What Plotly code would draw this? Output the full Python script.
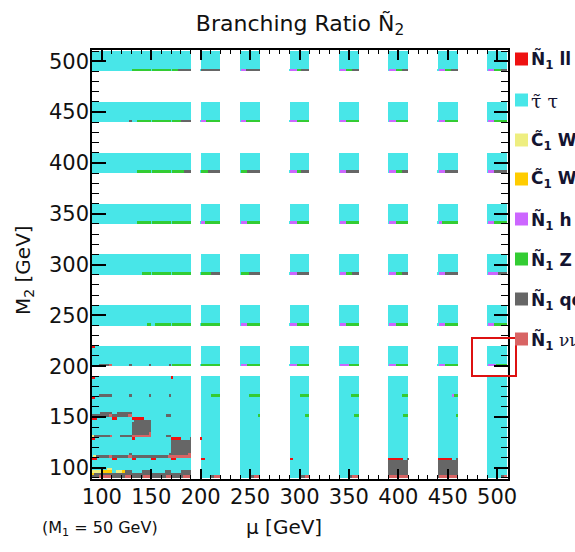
import math
import plotly.graph_objects as go

# Scan grid: higgsino mass parameter mu (columns) and wino mass M2 (rows)
mu_values = [100, 120, 140, 160, 180, 210, 250, 300, 350, 400, 450, 500]
m2_values = [500, 450, 400, 350, 300, 250, 210, 180, 160, 140, 120, 100]

# Decay channels of the second neutralino, in legend / fill order
channel_names = [
    "<b>Ñ<sub>1</sub> ll</b>",
    "τ\u0303 τ",
    "<b>C\u0303<sub>1</sub> W</b>",
    "<b>C\u0303<sub>1</sub> W</b>",
    "<b>Ñ<sub>1</sub> h</b>",
    "<b>Ñ<sub>1</sub> Z</b>",
    "<b>Ñ<sub>1</sub> qq</b>",
    "<b>Ñ<sub>1</sub></b> <span style='font-family:DejaVu Serif'>νν</span>",
]
channel_label_fonts = [
    ("DejaVu Sans", 17), ("DejaVu Serif", 19), ("DejaVu Sans", 17), ("DejaVu Sans", 17),
    ("DejaVu Sans", 17), ("DejaVu Sans", 17), ("DejaVu Sans", 17), ("DejaVu Sans", 17),
]
channel_colors = ["#ee1111", "#48e6e8", "#eeee80", "#ffcc00",
                  "#cc66ff", "#33cc33", "#666666", "#d86464"]

# Branching ratios in percent; rows follow m2_values, columns follow mu_values
br_ll = [
    [0, 0, 0, 0, 0, 0, 0, 0, 0, 0, 0, 0],
    [0, 0, 0, 0, 0, 0, 0, 0, 0, 0, 0, 0],
    [0, 0, 0, 0, 0, 0, 0, 0, 0, 0, 0, 0],
    [0, 0, 0, 0, 0, 0, 0, 0, 0, 0, 0, 0],
    [0, 0, 0, 0, 0, 0, 0, 0, 0, 0, 0, 0],
    [0, 0, 0, 0, 0, 0, 0, 0, 0, 0, 0, 0],
    [2, 0, 0, 0, 0, 0, 0, 0, 0, 0, 0, 0],
    [2, 0, 0, 0, 1, 0, 0, 0, 0, 0, 0, 0],
    [2, 0, 0, 0, 0, 0, 0, 0, 0, 0, 0, 0],
    [3, 3, 8, 0, 0, 0, 0, 0, 0, 0, 0, 0],
    [2, 0, 2, 0, 6, 1, 0, 0, 0, 0, 0, 0],
    [3, 3, 3, 3, 3, 3, 0, 2, 0, 9, 9, 0],
]
br_stau = [
    [100, 100, 88, 88, 88, 88, 88, 88, 88, 88, 88, 88],
    [100, 99, 91, 88, 88, 88, 88, 88, 88, 88, 88, 88],
    [100, 100, 91, 88, 88, 88, 88, 88, 88, 88, 88, 88],
    [100, 100, 91, 88, 88, 88, 88, 88, 88, 88, 88, 88],
    [100, 100, 94, 88, 88, 88, 88, 88, 88, 88, 88, 88],
    [100, 100, 97, 90, 88, 88, 88, 88, 88, 88, 88, 88],
    [90, 99, 99, 99, 88, 88, 88, 88, 88, 88, 88, 88],
    [88, 99, 99, 99, 99, 94, 93, 94, 95, 96, 97, 100],
    [78, 78, 100, 100, 100, 100, 99, 97, 97, 97, 99, 100],
    [85, 90, 6, 97, 100, 100, 100, 100, 100, 100, 100, 100],
    [86, 86, 86, 86, 6, 99, 100, 100, 100, 100, 100, 100],
    [55, 62, 66, 68, 66, 91, 94, 93, 94, 3, 3, 96],
]
br_c1w_a = [
    [0, 0, 0, 0, 0, 0, 0, 0, 0, 0, 0, 0],
    [0, 0, 0, 0, 0, 0, 0, 0, 0, 0, 0, 0],
    [0, 0, 0, 0, 0, 0, 0, 0, 0, 0, 0, 0],
    [0, 0, 0, 0, 0, 0, 0, 0, 0, 0, 0, 0],
    [0, 0, 0, 0, 0, 0, 0, 0, 0, 0, 0, 0],
    [0, 0, 0, 0, 0, 0, 0, 0, 0, 0, 0, 0],
    [0, 0, 0, 0, 0, 0, 0, 0, 0, 0, 0, 0],
    [0, 0, 0, 0, 0, 0, 0, 0, 0, 0, 0, 0],
    [0, 0, 0, 0, 0, 0, 0, 0, 0, 0, 0, 0],
    [1, 0, 0, 0, 0, 0, 0, 0, 0, 0, 0, 0],
    [2, 0, 0, 0, 0, 0, 0, 0, 0, 0, 0, 0],
    [8, 4, 0, 0, 0, 0, 0, 0, 0, 0, 0, 0],
]
br_c1w_b = [
    [0, 0, 0, 0, 0, 0, 0, 0, 0, 0, 0, 0],
    [0, 0, 0, 0, 0, 0, 0, 0, 0, 0, 0, 0],
    [0, 0, 0, 0, 0, 0, 0, 0, 0, 0, 0, 0],
    [0, 0, 0, 0, 0, 0, 0, 0, 0, 0, 0, 0],
    [0, 0, 0, 0, 0, 0, 0, 0, 0, 0, 0, 0],
    [0, 0, 0, 0, 0, 0, 0, 0, 0, 0, 0, 0],
    [0, 0, 0, 0, 0, 0, 0, 0, 0, 0, 0, 0],
    [0, 0, 0, 0, 0, 0, 0, 0, 0, 0, 0, 0],
    [0, 0, 0, 0, 0, 0, 0, 0, 0, 0, 0, 0],
    [0, 0, 0, 0, 0, 0, 0, 0, 0, 0, 0, 0],
    [0, 0, 0, 0, 0, 0, 0, 0, 0, 0, 0, 0],
    [8, 2, 0, 0, 0, 0, 0, 0, 0, 0, 0, 0],
]
br_h = [
    [0, 0, 0, 0, 0, 0, 3, 4, 4, 4, 4, 4],
    [0, 0, 0, 0, 0, 3, 3, 4, 4, 4, 4, 4],
    [0, 0, 0, 0, 0, 0, 0, 4, 4, 4, 4, 4],
    [0, 0, 0, 0, 0, 2, 4, 4, 4, 4, 2, 4],
    [0, 0, 0, 0, 0, 0, 0, 4, 4, 4, 4, 6],
    [0, 0, 0, 0, 0, 0, 4, 4, 4, 4, 4, 4],
    [0, 0, 0, 0, 0, 0, 4, 4, 6, 4, 4, 5],
    [0, 0, 0, 0, 0, 0, 0, 0, 0, 0, 1, 0],
    [0, 0, 0, 0, 0, 0, 0, 0, 0, 0, 0, 0],
    [0, 0, 0, 0, 0, 0, 0, 0, 0, 0, 0, 0],
    [0, 0, 0, 0, 0, 0, 0, 0, 0, 0, 0, 0],
    [0, 0, 0, 0, 0, 0, 0, 0, 0, 0, 0, 0],
]
br_z = [
    [0, 0, 12, 12, 4, 0, 0, 3, 4, 4, 4, 4],
    [0, 0, 9, 12, 6, 9, 9, 8, 8, 8, 8, 8],
    [0, 0, 9, 12, 8, 4, 4, 3, 0, 4, 0, 0],
    [0, 0, 9, 12, 12, 10, 8, 8, 8, 8, 10, 8],
    [0, 0, 6, 12, 12, 6, 5, 0, 4, 4, 0, 0],
    [0, 0, 3, 10, 12, 12, 8, 8, 8, 8, 8, 8],
    [0, 0, 0, 0, 12, 12, 8, 8, 6, 8, 8, 7],
    [0, 0, 0, 0, 0, 6, 7, 6, 5, 4, 2, 0],
    [0, 0, 0, 0, 0, 0, 1, 3, 3, 3, 1, 0],
    [0, 0, 0, 0, 0, 0, 0, 0, 0, 0, 0, 0],
    [0, 0, 0, 0, 0, 0, 0, 0, 0, 0, 0, 0],
    [0, 0, 0, 0, 0, 0, 0, 0, 0, 0, 0, 0],
]
br_qq = [
    [0, 0, 0, 0, 8, 12, 9, 5, 4, 4, 4, 4],
    [0, 1, 0, 0, 6, 0, 0, 0, 0, 0, 0, 0],
    [0, 0, 0, 0, 4, 8, 8, 5, 8, 4, 8, 8],
    [0, 0, 0, 0, 0, 0, 0, 0, 0, 0, 0, 0],
    [0, 0, 0, 0, 0, 6, 7, 8, 4, 4, 8, 6],
    [0, 0, 0, 0, 0, 0, 0, 0, 0, 0, 0, 0],
    [6, 1, 1, 1, 0, 0, 0, 0, 0, 0, 0, 0],
    [8, 1, 1, 1, 0, 0, 0, 0, 0, 0, 0, 0],
    [18, 20, 0, 3, 0, 0, 0, 0, 0, 0, 0, 0],
    [10, 7, 72, 3, 0, 0, 0, 0, 0, 0, 0, 0],
    [8, 12, 12, 12, 74, 0, 0, 0, 0, 0, 0, 0],
    [15, 25, 26, 26, 26, 2, 2, 2, 2, 76, 76, 2],
]
br_nunu = [
    [0, 0, 0, 0, 0, 0, 0, 0, 0, 0, 0, 0],
    [0, 0, 0, 0, 0, 0, 0, 0, 0, 0, 0, 0],
    [0, 0, 0, 0, 0, 0, 0, 0, 0, 0, 0, 0],
    [0, 0, 0, 0, 0, 0, 0, 0, 0, 0, 0, 0],
    [0, 0, 0, 0, 0, 0, 0, 0, 0, 0, 0, 0],
    [0, 0, 0, 0, 0, 0, 0, 0, 0, 0, 0, 0],
    [2, 0, 0, 0, 0, 0, 0, 0, 0, 0, 0, 0],
    [0, 0, 0, 0, 0, 0, 0, 0, 0, 0, 0, 0],
    [2, 2, 0, 0, 0, 0, 0, 0, 0, 0, 0, 0],
    [1, 0, 14, 0, 0, 0, 0, 0, 0, 0, 0, 0],
    [2, 2, 0, 2, 14, 0, 0, 0, 0, 0, 0, 0],
    [8, 4, 5, 3, 5, 4, 4, 3, 4, 12, 12, 2],
]

branchings = [br_ll, br_stau, br_c1w_a, br_c1w_b, br_h, br_z, br_qq, br_nunu]

CELL_W = 20.0      # width of one scan cell in mu [GeV]
CELL_H = 20.0      # height of one scan cell in M2 [GeV]
N_ROWS = 8         # each cell is filled row by row, top-left first

# Plot area in pixels (left, right, top, bottom) on the 575x552 page
PX_L, PX_R, PX_T, PX_B = 92, 508, 50, 479


def px_x(p):
    return (p - PX_L) / (PX_R - PX_L)


def px_y(p):
    return (PX_B - p) / (PX_B - PX_T)


# Build the filled rectangles of every cell, per channel
rects = {k: {"x": [], "w": [], "base": [], "h": []} for k in range(len(branchings))}
for i, m2 in enumerate(m2_values):
    for j, mu in enumerate(mu_values):
        vals = [br[i][j] for br in branchings]
        total = float(sum(vals))
        if total <= 0:
            continue
        left = mu - CELL_W / 2
        top = m2 + CELL_H / 2
        row_h = CELL_H / N_ROWS
        acc = 0.0
        for k, v in enumerate(vals):
            f = v / total
            a, b = acc * N_ROWS, (acc + f) * N_ROWS
            acc += f
            if f <= 0:
                continue
            r = int(math.floor(a + 1e-9))
            while r < b - 1e-9:
                s = max(a, r) - r
                e = min(b, r + 1) - r
                if e - s > 1e-6:
                    rects[k]["x"].append(left + (s + e) / 2 * CELL_W)
                    rects[k]["w"].append((e - s) * CELL_W)
                    rects[k]["base"].append(top - (r + 1) * row_h)
                    rects[k]["h"].append(row_h)
                r += 1

fig = go.Figure()
for k, name in enumerate(channel_names):
    d = rects[k]
    fig.add_trace(go.Bar(
        x=d["x"], y=d["h"], base=d["base"], width=d["w"],
        name=name, showlegend=False,
        marker=dict(color=channel_colors[k], line=dict(width=0)),
        hoverinfo="skip",
    ))

axis_common = dict(
    showline=True, linecolor="black", linewidth=1.5, mirror="allticks",
    ticks="inside", tickcolor="black", tickwidth=1.5,
    showgrid=False, zeroline=False,
    tickfont=dict(family="DejaVu Sans", size=21, color="#111111"),
)
fig.update_xaxes(
    range=[90, 511], tickvals=[100, 150, 200, 250, 300, 350, 400, 450, 500],
    ticklen=10, ticklabelstandoff=-2,
    minor=dict(ticks="inside", dtick=10, tick0=100, ticklen=4.5, tickcolor="black", tickwidth=1.2),
    **axis_common,
)
fig.update_yaxes(
    range=[89, 511], tickvals=[100, 150, 200, 250, 300, 350, 400, 450, 500],
    ticklen=14, ticklabelstandoff=-3,
    minor=dict(ticks="inside", dtick=10, tick0=100, ticklen=7, tickcolor="black", tickwidth=1.2),
    **axis_common,
)

# Highlighted scan point box
fig.add_shape(type="rect", xref="paper", yref="paper",
              x0=px_x(472), x1=px_x(516), y0=px_y(376), y1=px_y(338),
              line=dict(color="#dd1111", width=2))

# Channel key at the right edge: colour square plus label
legend_y = [59, 100, 140, 179, 219, 259, 299, 339]
for k, name in enumerate(channel_names):
    yc = legend_y[k]
    fam, size = channel_label_fonts[k]
    fig.add_shape(type="rect", xref="paper", yref="paper",
                  x0=px_x(515), x1=px_x(528), y0=px_y(yc + 6.5), y1=px_y(yc - 6.5),
                  line=dict(width=0), fillcolor=channel_colors[k])
    fig.add_annotation(text=name, xref="paper", yref="paper",
                       x=px_x(529), y=px_y(yc + 1), xanchor="left", yanchor="middle",
                       showarrow=False,
                       font=dict(family=fam, size=size, color="#141430"))

fig.add_annotation(text="M<sub>2</sub> [GeV]", xref="paper", yref="paper",
                   x=px_x(24), y=px_y(270), xanchor="center", yanchor="middle",
                   showarrow=False, textangle=-90,
                   font=dict(family="DejaVu Sans", size=20, color="#111111"))
fig.add_annotation(text="μ [GeV]", xref="paper", yref="paper",
                   x=px_x(284), y=px_y(527), xanchor="center", yanchor="middle",
                   showarrow=False,
                   font=dict(family="DejaVu Sans", size=20, color="#111111"))
fig.add_annotation(text="(M<sub>1</sub> = 50 GeV)", xref="paper", yref="paper",
                   x=px_x(100), y=px_y(528), xanchor="center", yanchor="middle",
                   showarrow=False,
                   font=dict(family="DejaVu Sans", size=16, color="#111111"))

fig.update_layout(
    width=575, height=552,
    margin=dict(l=PX_L, r=575 - PX_R, t=PX_T, b=552 - PX_B, autoexpand=False),
    paper_bgcolor="white", plot_bgcolor="white",
    barmode="overlay", bargap=0,
    title=dict(text="Branching Ratio Ñ<sub>2</sub>", x=0.5, xref="paper", y=1 - 23 / 552,
               yref="container", xanchor="center", yanchor="middle",
               font=dict(family="DejaVu Sans", size=22, color="#111111")),
    showlegend=False,
)

fig.write_html("out.html")
